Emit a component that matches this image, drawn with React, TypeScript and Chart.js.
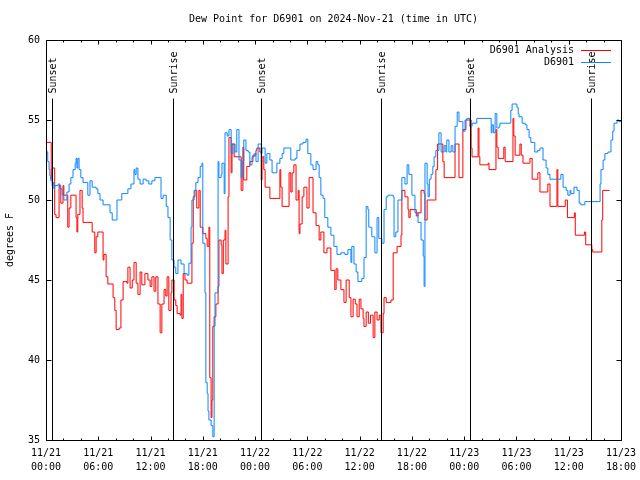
import React, { useEffect, useRef } from 'react';
import { Chart, registerables } from 'chart.js';

Chart.register(...registerables);

// Hours since 11/21 00:00 UTC
const analysisHours = [
  0, 0.6, 0.7, 1.0, 1.15, 1.5, 1.7, 1.95, 2.05, 2.4, 2.5, 2.65, 2.85, 3.35, 3.45, 3.55, 3.65, 3.9, 4.15, 4.25,
  4.8, 5.3, 5.6, 5.75, 5.95, 6.55, 6.65, 6.9, 7.1, 7.7, 7.9, 8.05, 8.4, 8.6, 8.85, 9.3, 9.4, 9.65, 9.9, 10.1,
  10.35, 10.55, 10.8, 11.0, 11.35, 11.7, 11.95, 12.15, 12.4, 12.6, 12.85, 13.1, 13.3, 13.55, 13.75, 13.9, 14.1, 14.35, 14.45, 14.7,
  14.9, 15.05, 15.4, 15.5, 15.6, 15.75, 15.95, 16.2, 16.75, 16.9, 17.1, 17.3, 17.55, 17.7, 18.0, 18.35, 18.5, 18.7, 18.8, 18.95,
  19.05, 19.15, 19.3, 19.5, 19.75, 19.85, 20.1, 20.2, 20.35, 20.55, 20.65, 20.9, 21.0, 21.25, 21.35, 21.6, 22.4, 22.6, 22.7, 23.05,
  23.4, 23.75, 24.1, 24.2, 24.55, 24.7, 24.8, 25.0, 25.15, 25.7, 26.85, 26.95, 27.1, 27.9, 28.1, 28.25, 28.45, 28.7, 28.95, 29.05,
  29.15, 29.4, 29.6, 29.95, 30.2, 30.65, 31.0, 31.35, 31.55, 31.9, 32.25, 32.7, 33.15, 33.3, 33.5, 33.85, 34.2, 34.45, 34.8, 35.0,
  35.25, 35.5, 35.7, 35.95, 36.15, 36.4, 36.5, 36.75, 37.0, 37.25, 37.55, 37.75, 38.0, 38.25, 38.45, 38.7, 38.8, 39.05, 39.6, 39.85,
  40.3, 40.75, 40.85, 41.2, 41.55, 41.65, 41.8, 42.5, 42.7, 43.05, 43.4, 43.5, 43.75, 44.75, 44.95, 45.55, 45.7, 46.95, 47.4, 47.85,
  48.2, 48.8, 48.9, 49.6, 49.7, 49.8, 50.75, 50.85, 51.65, 51.75, 51.9, 52.55, 52.7, 53.6, 53.7, 53.85, 54.4, 54.55, 54.75, 55.55,
  55.8, 56.45, 56.7, 57.6, 57.85, 58.65, 58.75, 59.6, 59.85, 60.65, 60.75, 61.8, 61.95, 62.65, 62.75, 63.8, 63.9, 64.7,
];
const analysisValues = [
  53.6, 51.3, 52.0, 49.1, 48.9, 50.9, 49.8, 50.9, 50.3, 50.3, 48.3, 49.5, 50.3, 50.3, 48.9, 48.0, 49.1, 50.6, 49.5, 48.6,
  48.6, 48.0, 46.7, 47.7, 48.0, 46.25, 46.6, 45.2, 44.75, 43.9, 43.1, 41.9, 42.0, 43.75, 44.9, 44.8, 45.8, 44.5, 45.0, 46.1,
  44.8, 44.1, 45.5, 44.7, 45.4, 45.0, 44.6, 45.2, 44.3, 45.2, 43.5, 41.7, 43.5, 44.4, 44.0, 45.2, 43.1, 44.2, 45.0, 43.75,
  43.4, 42.9, 42.8, 44.1, 42.6, 45.4, 45.0, 44.8, 47.3, 50.2, 50.6, 49.5, 50.6, 48.3, 47.9, 47.6, 47.1, 48.3, 38.9, 36.4,
  37.5, 42.1, 42.7, 43.5, 44.6, 47.5, 47.2, 45.4, 47.5, 48.1, 46.0, 50.2, 53.9, 51.7, 53.5, 52.7, 50.6, 53.3, 51.25, 52.1,
  52.4, 52.8, 53.1, 53.25, 53.0, 51.25, 52.7, 51.9, 50.8, 50.1, 51.9, 50.8, 49.6, 51.7, 50.5, 51.7, 52.2, 50.0, 50.6, 47.9,
  48.5, 50.2, 50.8, 49.5, 51.4, 49.2, 48.4, 47.5, 48.0, 46.7, 47.0, 45.6, 44.4, 45.7, 45.0, 44.4, 43.6, 45.0, 43.9, 42.7,
  43.8, 43.5, 42.7, 43.8, 43.2, 42.6, 42.1, 43.0, 42.3, 42.8, 41.4, 43.0, 42.5, 42.8, 41.7, 42.9, 43.9, 43.6, 43.75, 46.7,
  47.1, 47.8, 50.6, 50.2, 49.4, 48.9, 49.4, 49.0, 49.2, 50.6, 50.4, 48.75, 50.0, 51.9, 53.5, 52.4, 51.4, 53.5, 51.4, 54.4,
  55.0, 53.25, 52.7, 54.5, 52.7, 52.2, 52.3, 51.9, 54.4, 53.3, 52.6, 53.3, 52.4, 55.1, 54.0, 52.8, 53.5, 52.8, 52.3, 52.6,
  51.3, 51.7, 50.5, 51.0, 49.6, 51.9, 49.6, 50.0, 48.9, 49.2, 47.8, 48.0, 47.2, 46.9, 46.75, 48.75, 50.6, 50.6,
];

const stationHours = [
  0, 0.1, 0.2, 0.35, 0.45, 0.55, 0.7, 0.8, 0.9, 1.0, 1.4, 1.6, 1.85, 2.05, 2.4, 2.65, 2.85, 3.1, 3.35, 3.45,
  3.55, 3.65, 3.8, 4.0, 4.25, 4.7, 4.8, 5.05, 5.3, 5.75, 5.95, 6.2, 6.55, 7.0, 7.35, 7.6, 8.05, 8.15, 8.5, 8.7,
  9.2, 9.4, 9.75, 10.1, 10.2, 10.35, 10.55, 10.8, 11.15, 11.5, 11.8, 12.15, 12.5, 12.85, 13.1, 13.2, 13.45, 13.8, 14.0, 14.25,
  14.45, 14.7, 14.9, 15.15, 15.5, 15.85, 16.2, 16.4, 16.65, 16.75, 17.0, 17.2, 17.45, 17.7, 17.9, 18.0, 18.25, 18.35, 18.5, 18.6,
  18.7, 18.95, 19.15, 19.3, 19.4, 19.6, 19.75, 19.85, 20.1, 20.2, 20.45, 20.55, 20.8, 21.0, 21.25, 21.45, 21.7, 21.9, 22.15, 22.4,
  22.6, 22.7, 22.95, 23.2, 23.4, 23.65, 23.9, 24.1, 24.35, 24.55, 24.7, 24.8, 25.15, 25.35, 25.7, 25.95, 26.3, 26.5, 26.85, 27.1,
  27.3, 28.0, 28.1, 28.6, 28.8, 29.15, 29.5, 29.85, 30.05, 30.4, 30.65, 31.0, 31.2, 31.35, 31.55, 31.8, 32.0, 32.35, 32.7, 33.05,
  33.4, 33.85, 34.3, 34.65, 35.0, 35.1, 35.35, 35.6, 35.8, 36.25, 36.5, 36.75, 36.95, 37.05, 37.4, 37.75, 38.0, 38.2, 38.55, 38.8,
  39.05, 39.25, 39.85, 39.95, 40.15, 40.4, 40.75, 40.85, 41.2, 41.45, 41.65, 42.0, 42.35, 42.7, 43.05, 43.3, 43.4, 43.5, 43.75, 43.85,
  44.0, 44.2, 44.4, 44.55, 44.75, 45.1, 45.35, 45.7, 45.9, 46.0, 46.25, 46.5, 46.7, 46.95, 47.2, 47.4, 47.65, 47.85, 48.1, 48.3,
  48.65, 48.9, 49.45, 51.1, 51.2, 51.35, 51.55, 51.75, 52.0, 52.1, 53.35, 53.5, 54.05, 54.2, 54.3, 54.65, 55.0, 55.2, 55.45, 55.65,
  56.1, 56.45, 56.7, 57.05, 57.4, 57.6, 57.85, 59.1, 59.35, 59.7, 59.9, 60.15, 60.25, 60.6, 60.95, 61.2, 61.4, 61.85, 63.45, 63.6,
  63.7, 63.95, 64.15, 64.5, 64.85, 65.05, 65.2, 65.55, 65.75, 66.0,
];
const stationValues = [
  53.1, 53.0, 52.4, 51.9, 51.5, 51.2, 50.9, 51.1, 50.7, 50.9, 51.0, 50.7, 50.3, 50.0, 50.5, 51.0, 51.4, 51.9, 52.3, 52.6,
  52.0, 52.6, 51.9, 51.4, 51.1, 51.1, 50.3, 51.2, 50.8, 50.7, 50.4, 50.0, 49.7, 49.7, 49.2, 48.75, 48.75, 50.0, 50.0, 50.4,
  50.4, 50.7, 51.0, 51.9, 51.6, 52.0, 51.3, 51.0, 51.3, 51.2, 51.0, 51.2, 51.4, 51.4, 51.4, 50.1, 50.3, 49.6, 48.9, 47.5,
  46.25, 45.8, 45.4, 46.25, 46.0, 45.4, 45.3, 46.05, 48.3, 50.0, 50.6, 51.1, 51.4, 52.1, 52.3, 47.3, 44.2, 38.6, 37.9, 36.8,
  36.25, 35.9, 35.2, 42.1, 44.2, 44.2, 52.4, 51.4, 51.6, 52.3, 50.4, 54.2, 54.0, 54.4, 52.9, 53.5, 53.0, 54.4, 52.5, 51.4,
  52.4, 53.75, 53.1, 53.0, 52.2, 52.7, 52.9, 52.4, 53.5, 53.5, 52.9, 53.25, 52.3, 52.9, 52.5, 51.7, 51.7, 52.3, 52.6, 52.9,
  53.25, 53.25, 52.5, 52.6, 53.1, 53.5, 53.6, 53.8, 52.9, 52.2, 51.9, 52.4, 52.2, 51.4, 50.3, 50.1, 48.9, 48.3, 47.8, 47.1,
  46.6, 46.7, 46.6, 46.9, 46.1, 47.1, 46.0, 45.5, 44.9, 45.1, 46.4, 49.6, 49.4, 48.3, 47.7, 46.7, 48.9, 47.6, 47.3, 49.4,
  50.2, 50.3, 50.2, 47.7, 48.0, 50.0, 50.0, 51.4, 51.0, 52.2, 51.6, 50.3, 49.2, 48.6, 47.5, 46.5, 44.6, 52.3, 51.0, 50.2,
  51.3, 51.6, 52.1, 52.7, 53.1, 54.2, 53.0, 53.4, 53.0, 53.75, 53.0, 53.4, 53.0, 54.6, 55.5, 54.9, 54.9, 54.3, 55.0, 55.1,
  54.6, 54.8, 55.1, 54.2, 54.7, 54.2, 55.4, 54.5, 54.6, 54.8, 55.6, 56.0, 55.8, 55.4, 55.2, 54.8, 54.7, 54.4, 53.9, 53.6,
  53.0, 53.1, 53.25, 52.5, 52.0, 51.6, 51.3, 51.6, 50.8, 50.6, 50.3, 50.6, 50.4, 50.8, 50.6, 49.8, 49.7, 49.9, 49.9, 51.0,
  51.9, 52.5, 52.9, 53.0, 53.75, 54.3, 54.8, 55.0, 54.9, 54.9,
];

const xTickHours = [0, 6, 12, 18, 24, 30, 36, 42, 48, 54, 60, 66];
const xTickDates = ['11/21', '11/21', '11/21', '11/21', '11/22', '11/22', '11/22', '11/22', '11/23', '11/23', '11/23', '11/23'];
const xTickTimes = ['00:00', '06:00', '12:00', '18:00', '00:00', '06:00', '12:00', '18:00', '00:00', '06:00', '12:00', '18:00'];
const yTickValues = [35, 40, 45, 50, 55, 60];

const sunEventHours = [0.7, 14.6, 24.7, 38.45, 48.65, 62.55];
const sunEventLabels = ['Sunset', 'Sunrise', 'Sunset', 'Sunrise', 'Sunset', 'Sunrise'];

const seriesNames = ['D6901 Analysis', 'D6901'];
const seriesColors = ['#ff0000', '#0a86ff'];
const titleText = 'Dew Point for D6901 on 2024-Nov-21 (time in UTC)';
const yAxisTitle = 'degrees F';

const FONT_FAMILY = '"DejaVu Sans Mono", monospace';
const FONT = `10px ${FONT_FAMILY}`;

const decorPlugin = {
  id: 'gnuplotDecor',
  afterDatasetsDraw(chart: any) {
    const { ctx, chartArea: a, scales } = chart;
    const x = scales.x;
    const y = scales.y;
    const L = Math.round(a.left) + 0.5;
    const R = Math.round(a.right) + 0.5;
    const T = Math.round(a.top) + 0.5;
    const B = Math.round(a.bottom) + 0.5;
    ctx.save();
    ctx.strokeStyle = '#000';
    ctx.lineWidth = 1;

    // sunrise / sunset markers
    ctx.font = FONT;
    ctx.fillStyle = '#000';
    sunEventHours.forEach((h, i) => {
      const px = Math.round(x.getPixelForValue(h)) + 0.5;
      ctx.beginPath();
      ctx.moveTo(px, T + 58);
      ctx.lineTo(px, B);
      ctx.stroke();
      ctx.save();
      ctx.translate(px + 1, T + 53);
      ctx.rotate(-Math.PI / 2);
      ctx.textAlign = 'left';
      ctx.textBaseline = 'middle';
      ctx.fillText(sunEventLabels[i], 0, 0);
      ctx.restore();
    });

    // frame
    ctx.beginPath();
    ctx.rect(L, T, R - L, B - T);
    ctx.stroke();

    // inward ticks x (every 2h, longer every 6h), mirrored on top
    ctx.beginPath();
    for (let h = 0; h <= 66; h += 2) {
      const px = Math.round(x.getPixelForValue(h)) + 0.5;
      const len = h % 6 === 0 ? 4 : 2;
      ctx.moveTo(px, B);
      ctx.lineTo(px, B - len);
      ctx.moveTo(px, T);
      ctx.lineTo(px, T + len);
    }
    // inward ticks y, mirrored on right
    yTickValues.forEach((v) => {
      const py = Math.round(y.getPixelForValue(v)) + 0.5;
      ctx.moveTo(L, py);
      ctx.lineTo(L + 5, py);
      ctx.moveTo(R, py);
      ctx.lineTo(R - 5, py);
    });
    ctx.stroke();

    // title
    ctx.font = FONT;
    ctx.fillStyle = '#000';
    ctx.textAlign = 'center';
    ctx.textBaseline = 'middle';
    ctx.fillText(titleText, (a.left + a.right) / 2, 19);

    // y axis title
    ctx.save();
    ctx.translate(10, (a.top + a.bottom) / 2);
    ctx.rotate(-Math.PI / 2);
    ctx.textAlign = 'center';
    ctx.textBaseline = 'middle';
    ctx.fillText(yAxisTitle, 0, 0);
    ctx.restore();

    // legend
    seriesNames.forEach((name, i) => {
      const ly = 50 + i * 12;
      ctx.textAlign = 'right';
      ctx.textBaseline = 'middle';
      ctx.fillStyle = '#000';
      ctx.fillText(name, 574, ly);
      ctx.strokeStyle = seriesColors[i];
      ctx.beginPath();
      ctx.moveTo(581, ly + 0.5);
      ctx.lineTo(611, ly + 0.5);
      ctx.stroke();
    });

    ctx.restore();
  },
};

export default function App() {
  const canvasRef = useRef<HTMLCanvasElement | null>(null);

  useEffect(() => {
    const canvas = canvasRef.current;
    if (!canvas) return;
    const chart = new Chart(canvas, {
      type: 'line',
      data: {
        datasets: [
          {
            label: seriesNames[0],
            data: analysisHours.map((h, i) => ({ x: h, y: analysisValues[i] })),
            borderColor: seriesColors[0],
            backgroundColor: seriesColors[0],
            borderWidth: 1,
            pointRadius: 0,
            stepped: 'before',
            fill: false,
            order: 1,
          },
          {
            label: seriesNames[1],
            data: stationHours.map((h, i) => ({ x: h, y: stationValues[i] })),
            borderColor: seriesColors[1],
            backgroundColor: seriesColors[1],
            borderWidth: 1,
            pointRadius: 0,
            stepped: 'before',
            fill: false,
            order: 0,
          },
        ],
      },
      options: {
        animation: false,
        responsive: false,
        devicePixelRatio: 1,
        layout: { padding: { left: 0, top: 40, right: 19, bottom: 0 } },
        plugins: {
          legend: { display: false },
          tooltip: { enabled: false },
          title: { display: false },
        },
        scales: {
          x: {
            type: 'linear',
            min: 0,
            max: 66,
            afterFit: (s: any) => {
              s.height = 40;
              s.paddingLeft = 0;
              s.paddingRight = 0;
            },
            grid: { display: false, drawTicks: false },
            border: { display: false },
            ticks: {
              stepSize: 6,
              autoSkip: false,
              maxRotation: 0,
              padding: 6,
              color: '#000',
              font: { family: FONT_FAMILY, size: 10, lineHeight: 1.4 },
              callback: (v: any) => {
                const i = xTickHours.indexOf(Number(v));
                return i >= 0 ? [xTickDates[i], xTickTimes[i]] : '';
              },
            },
          },
          y: {
            min: 35,
            max: 60,
            afterFit: (s: any) => {
              s.width = 46;
              s.paddingTop = 0;
              s.paddingBottom = 0;
            },
            grid: { display: false, drawTicks: false },
            border: { display: false },
            ticks: {
              stepSize: 5,
              padding: 6,
              color: '#000',
              font: { family: FONT_FAMILY, size: 10 },
            },
          },
        },
      },
      plugins: [decorPlugin],
    } as any);
    return () => chart.destroy();
  }, []);

  return (
    <div style={{ position: 'fixed', left: 0, top: 0, width: 640, height: 480, background: '#fff' }}>
      <canvas ref={canvasRef} width={640} height={480} style={{ display: 'block' }} />
    </div>
  );
}
